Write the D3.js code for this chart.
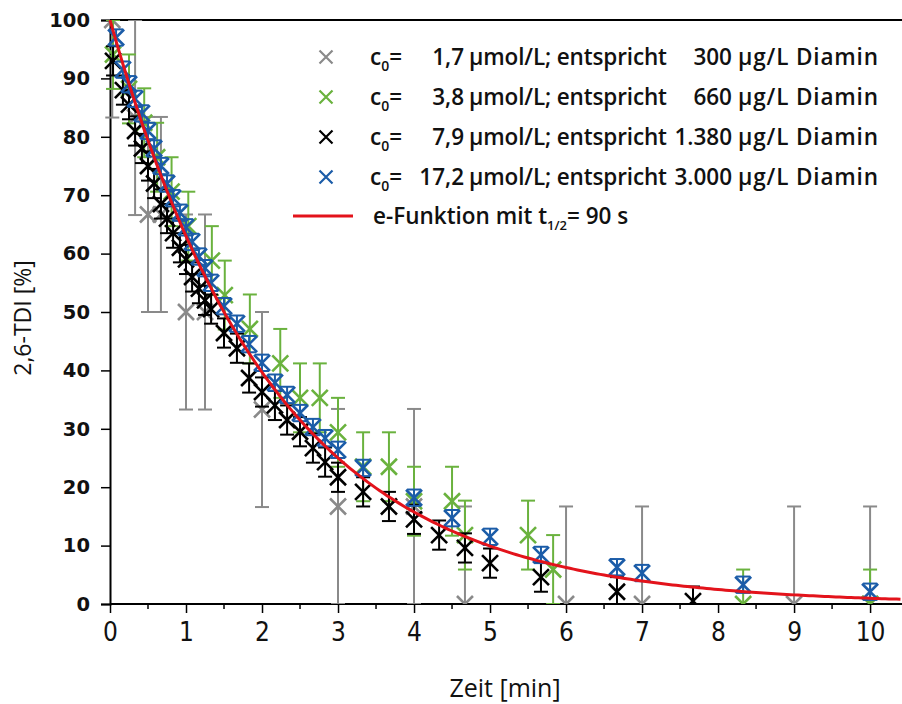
<!DOCTYPE html>
<html>
<head>
<meta charset="utf-8">
<script src="https://cdn.jsdelivr.net/npm/d3@7"></script>
<style>
  body { margin: 0; background: #fff; }
  svg { display: block; }
</style>
</head>
<body>
<div id="chart"></div>
<script>
// values: Zeit [min] and remaining 2,6-TDI [%]
var grayTime  = [0.03, 0.33, 0.5, 0.67, 1.0, 1.25, 2.0, 3.0, 4.0, 4.67, 6.0, 7.0, 9.0, 10.0];
var grayValue = [100, 83.3, 66.7, 66.7, 50, 50, 33.3, 16.7, 16.7, 0, 0, 0, 0, 0];
var grayErr = 16.7;

var greenTime  = [0.04, 0.25, 0.45, 0.62, 0.81, 1.03, 1.34, 1.51, 1.84, 2.24, 2.5, 2.76, 3.0, 3.33, 3.67, 4.0, 4.5, 4.67, 5.5, 5.83, 8.33, 10.0];
var greenValue = [94.1, 88.2, 82.4, 76.5, 70.6, 64.7, 58.8, 52.9, 47.1, 41.2, 35.3, 35.3, 29.4, 23.5, 23.5, 17.6, 17.6, 11.8, 11.8, 5.9, 0, 0];
var greenErr = 5.9;

var blackTime  = [0.04, 0.17, 0.25, 0.33, 0.42, 0.5, 0.58, 0.67, 0.75, 0.83, 0.92, 1.0, 1.08, 1.17, 1.25, 1.33, 1.5, 1.67, 1.83, 2.0, 2.17, 2.33, 2.5, 2.67, 2.83, 3.0, 3.33, 3.67, 4.0, 4.33, 4.67, 5.0, 5.67, 6.67, 7.67];
var blackValue = [93, 88, 85.5, 81, 78, 75, 72, 68.5, 66, 63.5, 61, 59, 56, 54, 52, 50.5, 46.4, 43.8, 38.7, 36.3, 34, 31.5, 29.5, 26.7, 24.3, 21.7, 19.2, 16.7, 14.5, 11.8, 9.6, 7.0, 4.6, 2.1, 0.5];
var blackErr = 2.5;

var blueTime  = [0.08, 0.17, 0.25, 0.33, 0.42, 0.5, 0.58, 0.67, 0.75, 0.83, 0.92, 1.0, 1.08, 1.17, 1.25, 1.33, 1.5, 1.67, 1.83, 2.0, 2.17, 2.33, 2.5, 2.67, 2.83, 3.0, 3.33, 4.0, 4.5, 5.0, 5.67, 6.67, 7.0, 8.33, 10.0];
var blueValue = [97, 91.5, 89, 86.5, 84, 81, 78, 75, 72, 69.5, 67, 64.5, 62, 59.5, 57.5, 55, 51, 48, 44.5, 41.3, 37.9, 35.8, 32.7, 30.3, 28.4, 26.4, 23.3, 18.2, 14.7, 11.5, 8.4, 6.3, 5.3, 3.3, 2.1];
var blueErr = 1.4;

var legendConc = ["1,7", "3,8", "7,9", "17,2"];
var legendMass = ["300", "660", "1.380", "3.000"];
var halfLife = 1.5; // t1/2 = 90 s, in minutes

var xTicks = [0, 1, 2, 3, 4, 5, 6, 7, 8, 9, 10];
var xMinor = [0.5, 1.5, 2.5, 3.5, 4.5, 5.5, 6.5, 7.5, 8.5, 9.5, 10.5];
var yTicks = [0, 10, 20, 30, 40, 50, 60, 70, 80, 90, 100];

var series = [
  {time: grayTime,  value: grayValue,  err: grayErr,  color: "#8a8a8a"},
  {time: greenTime, value: greenValue, err: greenErr, color: "#6ab23e"},
  {time: blackTime, value: blackValue, err: blackErr, color: "#000000"},
  {time: blueTime,  value: blueValue,  err: blueErr,  color: "#1b5ca8"}
];

var W = 902, H = 704;
var margin = {top: 20, right: 0, bottom: 100, left: 110},
    width = W - margin.left - margin.right,
    height = H - margin.top - margin.bottom;

var svg = d3.select("#chart").append("svg")
    .attr("width", W).attr("height", H)
  .append("g")
    .attr("transform", "translate(" + margin.left + "," + margin.top + ")");

var x = d3.scaleLinear().domain([0, 10.42]).range([0, width]);
var y = d3.scaleLinear().domain([0, 100]).range([height, 0]);

svg.append("clipPath").attr("id", "plotclip")
  .append("rect").attr("x", -20).attr("y", 0).attr("width", width + 20).attr("height", height);

// axes
var yAxis = svg.append("g")
  .call(d3.axisLeft(y).tickValues(yTicks).tickSize(9).tickPadding(11));
yAxis.select(".domain").attr("stroke", "#000").attr("stroke-width", 2);
yAxis.selectAll(".tick line").attr("stroke-width", 1.5);
yAxis.selectAll("text")
  .attr("font-family", "DejaVu Sans, sans-serif")
  .attr("font-weight", "bold")
  .attr("font-size", 19.5)
  .attr("fill", "#111");

var xAxis = svg.append("g")
  .attr("transform", "translate(0," + height + ")")
  .call(d3.axisBottom(x).tickValues(xTicks).tickSize(9).tickPadding(10));
xAxis.select(".domain").remove();
xAxis.selectAll(".tick line").attr("stroke-width", 1.5);
xAxis.selectAll("text")
  .attr("font-family", "Liberation Sans Narrow, DejaVu Sans Condensed, sans-serif")
  .attr("font-stretch", "condensed")
  .attr("font-size", 26)
  .attr("fill", "#111");

svg.append("g")
  .selectAll("line").data(xMinor).enter().append("line")
    .attr("x1", function(d) { return x(d); }).attr("x2", function(d) { return x(d); })
    .attr("y1", height).attr("y2", height + 5)
    .attr("stroke", "#000").attr("stroke-width", 1.5);

svg.append("line")
  .attr("x1", 0).attr("x2", width).attr("y1", height).attr("y2", height)
  .attr("stroke", "#000").attr("stroke-width", 2);
svg.append("line")
  .attr("x1", 0).attr("x2", width).attr("y1", 0).attr("y2", 0)
  .attr("stroke", "#000").attr("stroke-width", 2);

// axis titles
svg.append("text")
  .attr("transform", "translate(" + (31 - margin.left) + "," + (height / 2 + 6) + ") rotate(-90)")
  .attr("text-anchor", "middle")
  .attr("font-family", "Open Sans, sans-serif").attr("font-size", 23).attr("font-weight", 500).attr("fill", "#111")
  .text("2,6-TDI [%]");
svg.append("text")
  .attr("x", 505 - margin.left).attr("y", 697 - margin.top)
  .attr("text-anchor", "middle")
  .attr("font-family", "Open Sans, sans-serif").attr("font-size", 25).attr("font-weight", 500).attr("fill", "#111")
  .text("Zeit [min]");

// data marks
var plot = svg.append("g").attr("clip-path", "url(#plotclip)");
var cross = "M-8,-8L8,8M-8,8L8,-8";

series.forEach(function(s) {
  var pts = s.time.map(function(t, i) { return {t: t, v: s.value[i], e: s.err}; });
  var g = plot.append("g").attr("stroke", s.color).attr("fill", "none");
  var bars = g.selectAll(".bar").data(pts).enter().append("g").attr("class", "bar")
    .attr("stroke-width", 2);
  bars.append("line")
    .attr("x1", function(d) { return x(d.t); }).attr("x2", function(d) { return x(d.t); })
    .attr("y1", function(d) { return y(d.v - d.e); }).attr("y2", function(d) { return y(d.v + d.e); });
  bars.append("line")
    .attr("x1", function(d) { return x(d.t) - 7; }).attr("x2", function(d) { return x(d.t) + 7; })
    .attr("y1", function(d) { return y(d.v + d.e); }).attr("y2", function(d) { return y(d.v + d.e); });
  bars.append("line")
    .attr("x1", function(d) { return x(d.t) - 7; }).attr("x2", function(d) { return x(d.t) + 7; })
    .attr("y1", function(d) { return y(d.v - d.e); }).attr("y2", function(d) { return y(d.v - d.e); });
  g.selectAll(".mk").data(pts).enter().append("path").attr("class", "mk")
    .attr("d", cross)
    .attr("stroke-width", 2.6)
    .attr("transform", function(d) { return "translate(" + x(d.t) + "," + y(d.v) + ")"; });
});

// e-function with t1/2 = 90 s
var curveT = d3.range(0, 10.43, 0.05);
plot.append("path")
  .datum(curveT)
  .attr("fill", "none")
  .attr("stroke", "#e3131b")
  .attr("stroke-width", 3)
  .attr("d", d3.line()
    .x(function(t) { return x(t); })
    .y(function(t) { return y(100 * Math.pow(0.5, t / halfLife)); }));

// legend
var lg = svg.append("g")
  .attr("transform", "translate(" + (-margin.left) + "," + (-margin.top) + ")")
  .attr("font-family", "Open Sans, sans-serif").attr("font-size", 22.5).attr("font-weight", 600)
  .attr("fill", "#111");

series.forEach(function(s, i) {
  var cy = 57 + i * 40;
  lg.append("path").attr("d", "M-6.5,-6.5L6.5,6.5M-6.5,6.5L6.5,-6.5")
    .attr("transform", "translate(326," + cy + ")")
    .attr("stroke", s.color).attr("stroke-width", 2.2).attr("fill", "none");
  var t = lg.append("text").attr("x", 370).attr("y", cy + 8);
  t.append("tspan").text("c");
  t.append("tspan").attr("font-size", 14).attr("dy", 6).text("0");
  t.append("tspan").attr("dy", -6).text("=");
  lg.append("text").attr("x", 464).attr("y", cy + 8).attr("text-anchor", "end").text(legendConc[i]);
  lg.append("text").attr("x", 469).attr("y", cy + 8).attr("textLength", 198).text("µmol/L; entspricht");
  lg.append("text").attr("x", 732).attr("y", cy + 8).attr("text-anchor", "end").text(legendMass[i]);
  lg.append("text").attr("x", 738).attr("y", cy + 8).attr("textLength", 140).text("µg/L Diamin");
});

lg.append("line").attr("x1", 293).attr("x2", 353).attr("y1", 216).attr("y2", 216)
  .attr("stroke", "#e3131b").attr("stroke-width", 3);
var ft = lg.append("text").attr("x", 373).attr("y", 224);
ft.append("tspan").text("e-Funktion mit t");
ft.append("tspan").attr("font-size", 13).attr("dy", 6).text("1/2");
ft.append("tspan").attr("dy", -6).text("= 90 s");
</script>
</body>
</html>
